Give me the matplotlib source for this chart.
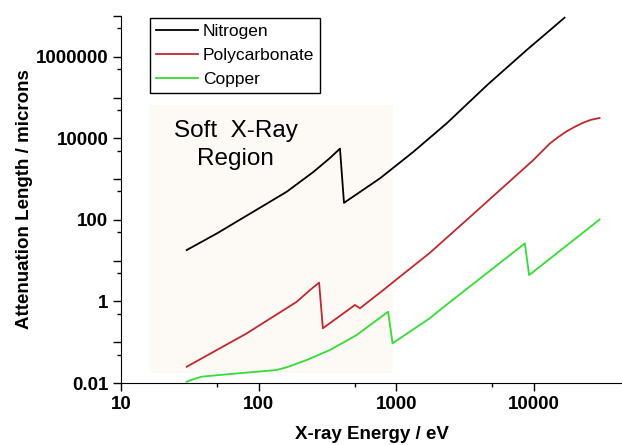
import numpy as np
import matplotlib
matplotlib.use('Agg')
import matplotlib.pyplot as plt
from matplotlib.patches import Rectangle
from matplotlib.ticker import FixedLocator, FixedFormatter, NullFormatter

plt.rcParams['font.family'] = ['Liberation Sans', 'DejaVu Sans']

# attenuation length (microns) vs photon energy (eV)
nitrogen_e = [30, 50, 69, 100, 160, 250, 330, 390, 417, 760, 1330, 2320, 4650, 8830, 16700]
nitrogen_y = [18.2, 47, 90, 190, 490, 1500, 3300, 5600, 262, 1040, 4660, 2.32e4, 2.13e5, 1.45e6, 9.1e6]

poly_e = [30, 82, 189, 236, 275, 293, 501, 545, 804, 1062, 1750, 3240, 9890, 13060,
          15000, 17250, 20000, 23000, 26000, 30000]
poly_y = [0.025, 0.165, 0.98, 1.9, 2.9, 0.22, 0.82, 0.68, 1.9, 4.04, 15.5, 99, 2920, 7500,
          10700, 14800, 19500, 24500, 28500, 31600]

copper_e = [30, 33.5, 38.5, 62, 135, 160, 223, 330, 515, 873, 940, 1750, 2070, 8590, 9230, 30000]
copper_y = [0.0108, 0.0123, 0.0143, 0.0166, 0.0208, 0.0243, 0.0366, 0.0644, 0.150, 0.56,
            0.094, 0.386, 0.615, 26.5, 4.43, 102]

region_e = (16, 944)
region_y = (0.0176, 65000)

x_ticks = [10, 100, 1000, 10000]
x_labels = ['10', '100', '1000', '10000']
x_minor = [50, 500, 5000]
y_ticks = [0.01, 0.1, 1, 10, 100, 1000, 1e4, 1e5, 1e6, 1e7]
y_labels = ['0.01', '', '1', '', '100', '', '10000', '', '1000000', '']
y_minor = [0.05, 0.5, 5, 50, 500, 5000, 5e4, 5e5, 5e6]

fig = plt.figure(figsize=(6.22, 4.45), dpi=100)
ax = fig.add_axes([0.1945, 0.1393, 0.8055, 0.8247])
ax.set_xscale('log')
ax.set_yscale('log')
ax.set_xlim(10, 10**4.64)
ax.set_ylim(0.01, 1e7)

ax.add_patch(Rectangle((region_e[0], region_y[0]), region_e[1] - region_e[0],
                       region_y[1] - region_y[0], facecolor='#fdf9f5',
                       edgecolor='none', zorder=0))

ax.plot(nitrogen_e, nitrogen_y, color='black', lw=1.3, label='Nitrogen')
ax.plot(poly_e, poly_y, color='#c0282d', lw=1.3, label='Polycarbonate')
ax.plot(copper_e, copper_y, color='#33dd33', lw=1.3, label='Copper')

ax.text(68, 7000, 'Soft  X-Ray\nRegion', fontsize=17.5, ha='center', va='center',
        multialignment='center', linespacing=1.35)

ax.xaxis.set_major_locator(FixedLocator(x_ticks))
ax.xaxis.set_major_formatter(FixedFormatter(x_labels))
ax.xaxis.set_minor_locator(FixedLocator(x_minor))
ax.xaxis.set_minor_formatter(NullFormatter())
ax.yaxis.set_major_locator(FixedLocator(y_ticks))
ax.yaxis.set_major_formatter(FixedFormatter(y_labels))
ax.yaxis.set_minor_locator(FixedLocator(y_minor))
ax.yaxis.set_minor_formatter(NullFormatter())

ax.tick_params(which='major', length=6, width=1, labelsize=13.5, pad=3)
ax.tick_params(which='minor', length=3, width=1)
for lab in ax.get_xticklabels() + ax.get_yticklabels():
    lab.set_fontweight('bold')

for s in ['top', 'right']:
    ax.spines[s].set_visible(False)

ax.set_xlabel('X-ray Energy / eV', fontsize=13.5, fontweight='bold', labelpad=10)
ax.set_ylabel('Attenuation Length / microns', fontsize=13.5, fontweight='bold', labelpad=2)

leg = ax.legend(loc='upper left', bbox_to_anchor=(0.058, 0.995), borderaxespad=0,
                fontsize=12.5, handlelength=2.4, handletextpad=0.3, borderpad=0.35,
                labelspacing=0.5, fancybox=False, framealpha=1, edgecolor='black')
leg.get_frame().set_linewidth(1)

plt.savefig('out.png', dpi=100)
